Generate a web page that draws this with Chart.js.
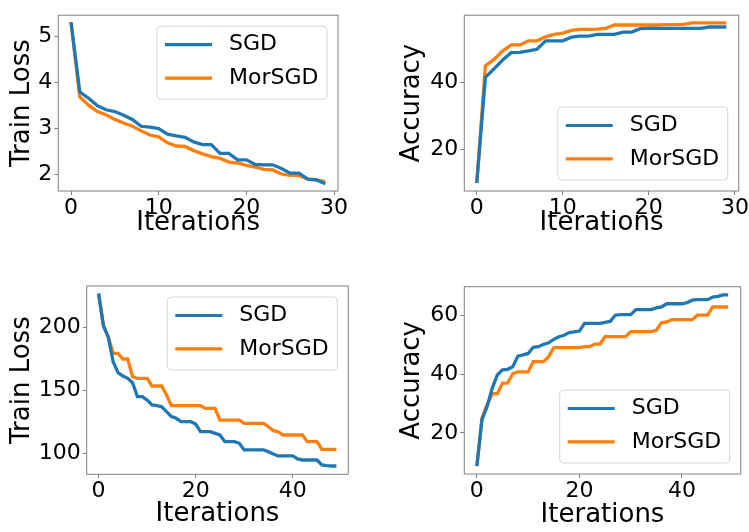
<!DOCTYPE html>
<html>
<head>
<meta charset="utf-8">
<script src="https://cdn.jsdelivr.net/npm/chart.js@4.4.1/dist/chart.umd.min.js"></script>
<style>
  body { margin: 0; background: #fff; }
  #wrap { position: relative; width: 749px; height: 532px; overflow: hidden; }
  canvas { position: absolute; }
</style>
</head>
<body>
<div id="wrap">
  <canvas id="lossTop" width="374" height="250" style="left:0;top:0"></canvas>
  <canvas id="accTop" width="374" height="250" style="left:375px;top:0"></canvas>
  <canvas id="lossBottom" width="374" height="272" style="left:0;top:260px"></canvas>
  <canvas id="accBottom" width="374" height="272" style="left:375px;top:260px"></canvas>
</div>
<script>
const seriesNames = ["SGD", "MorSGD"];

// top row: 30 iterations
const lossTopSgd = [5.32, 3.80, 3.66, 3.50, 3.41, 3.37, 3.29, 3.20, 3.05, 3.03, 3.00, 2.88, 2.84, 2.81, 2.71, 2.65, 2.65, 2.46, 2.46, 2.32, 2.32, 2.22, 2.21, 2.21, 2.13, 2.03, 2.03, 1.90, 1.88, 1.80];
const lossTopMor = [5.32, 3.69, 3.51, 3.37, 3.30, 3.20, 3.12, 3.05, 2.95, 2.86, 2.82, 2.69, 2.62, 2.61, 2.52, 2.45, 2.39, 2.35, 2.27, 2.25, 2.20, 2.16, 2.11, 2.10, 2.01, 1.98, 1.98, 1.90, 1.88, 1.84];
const accTopSgd = [10.1, 41.4, 43.9, 46.5, 48.7, 48.8, 49.2, 49.7, 52.2, 52.2, 52.2, 53.3, 53.6, 53.6, 54.1, 54.1, 54.1, 54.8, 54.8, 55.8, 55.9, 55.9, 55.9, 55.9, 55.9, 55.9, 55.9, 56.3, 56.3, 56.3];
const accTopMor = [10.1, 44.8, 46.7, 49.2, 51.0, 51.0, 52.2, 52.2, 53.4, 54.1, 54.5, 55.3, 55.6, 55.6, 55.7, 55.9, 56.9, 56.9, 56.9, 56.9, 56.9, 56.9, 57.0, 57.0, 57.1, 57.5, 57.5, 57.5, 57.5, 57.5];

// bottom row: 50 iterations
const lossBottomSgd = [227.3, 201.6, 192.3, 172.9, 164.2, 161.5, 159.7, 156.2, 145.1, 145.1,
  142.4, 138.5, 137.9, 137.1, 133.2, 129.2, 127.9, 125.2, 125.2, 125.2,
  123.3, 117.2, 117.2, 117.2, 115.9, 114.6, 109.3, 109.3, 109.3, 108.0,
  102.7, 102.7, 102.7, 102.7, 102.7, 101.3, 99.5, 97.9, 97.9, 97.9,
  97.9, 95.5, 94.7, 94.7, 94.7, 94.7, 90.7, 90.2, 89.9, 89.9];
const lossBottomMor = [227.3, 201.6, 192.8, 179.6, 179.6, 175.1, 175.1, 161.0, 159.7, 159.7,
  159.7, 153.6, 153.6, 153.6, 146.4, 137.9, 137.9, 137.9, 137.9, 137.9,
  137.9, 137.9, 135.8, 135.8, 135.8, 126.5, 126.5, 126.5, 126.5, 126.5,
  123.9, 123.9, 123.9, 123.9, 123.9, 121.2, 118.0, 117.2, 114.6, 114.6,
  114.6, 114.6, 114.6, 109.3, 109.3, 109.3, 103.2, 103.2, 103.2, 103.2];
const accBottomSgd = [8.7, 24.5, 29.0, 35.2, 39.7, 41.4, 41.6, 42.5, 46.1, 46.5,
  47.0, 49.1, 49.3, 50.1, 50.6, 51.8, 52.7, 53.2, 54.1, 54.3,
  54.6, 57.2, 57.2, 57.2, 57.2, 57.6, 57.9, 60.0, 60.2, 60.2,
  60.2, 61.9, 61.9, 61.9, 61.9, 62.5, 62.8, 63.9, 63.9, 63.9,
  63.9, 64.3, 65.1, 65.3, 65.3, 65.3, 66.2, 66.4, 66.9, 66.9];
const accBottomMor = [8.7, 25.1, 29.6, 33.3, 33.3, 36.9, 36.9, 40.1, 40.7, 40.7,
  40.7, 44.2, 44.2, 44.2, 45.9, 49.0, 49.0, 49.0, 49.0, 49.0,
  49.0, 49.3, 49.3, 50.2, 50.2, 52.7, 52.7, 52.7, 52.7, 52.7,
  54.4, 54.4, 54.4, 54.4, 54.4, 54.9, 57.4, 57.7, 58.5, 58.5,
  58.5, 58.5, 58.5, 60.0, 60.0, 60.0, 62.8, 62.8, 62.8, 62.8];

const xTicksTop = [0, 10, 20, 30];
const xTicksBottom = [0, 20, 40];
const lossTopTicks = [2, 3, 4, 5];
const accTopTicks = [20, 40];
const lossBottomTicks = [100, 150, 200];
const accBottomTicks = [20, 40, 60];

const colors = ["#1f77b4", "#ff7f0e"];
const FONT = "'DejaVu Sans', sans-serif";

// box around plot area + matplotlib style legend inside it
const boxPlugin = {
  id: "boxLegend",
  afterDatasetsDraw(chart) {
    const a = chart.chartArea, ctx = chart.ctx;
    ctx.save();
    ctx.strokeStyle = "#808080";
    ctx.lineWidth = 1;
    ctx.strokeRect(a.left, a.top, a.right - a.left, a.bottom - a.top);
    ctx.restore();
  },
  afterDraw(chart, args, opts) {
    const a = chart.chartArea, ctx = chart.ctx;
    const w = 170, h = 73, pad = 11;
    const x = a.right - pad - w;
    const y = opts.corner === "ne" ? a.top + pad : a.bottom - pad - h;
    ctx.save();
    ctx.beginPath();
    ctx.roundRect(x, y, w, h, 4);
    ctx.fillStyle = "rgba(255,255,255,0.8)";
    ctx.fill();
    ctx.strokeStyle = "#d5d5d5";
    ctx.lineWidth = 1;
    ctx.stroke();
    ctx.font = "22px " + FONT;
    ctx.textBaseline = "middle";
    ctx.textAlign = "left";
    chart.data.datasets.forEach((ds, i) => {
      const cy = y + 18.5 + i * 33.4;
      ctx.strokeStyle = ds.borderColor;
      ctx.lineWidth = 3.2;
      ctx.beginPath();
      ctx.moveTo(x + 8, cy);
      ctx.lineTo(x + 55, cy);
      ctx.stroke();
      ctx.fillStyle = "#000";
      ctx.fillText(ds.label, x + 72, cy);
    });
    ctx.restore();
  }
};

function makeChart(id, cfg) {
  const canvas = document.getElementById(id);
  const W = canvas.width, H = canvas.height;
  const ar = cfg.area;
  return new Chart(canvas, {
    type: "line",
    data: {
      datasets: cfg.series.map((vals, i) => ({
        label: seriesNames[i],
        data: vals.map((v, k) => ({ x: k, y: v })),
        borderColor: colors[i],
        borderWidth: 3.3,
        pointRadius: 0,
        tension: 0,
        fill: false
      }))
    },
    options: {
      responsive: false,
      animation: false,
      layout: { padding: { left: 0, top: ar.t, right: W - ar.r, bottom: 0 } },
      plugins: {
        legend: { display: false },
        tooltip: { enabled: false },
        boxLegend: { corner: cfg.corner }
      },
      scales: {
        x: {
          type: "linear",
          min: cfg.xMin, max: cfg.xMax,
          afterFit: s => { s.height = H - ar.b; },
          afterBuildTicks: s => { s.ticks = cfg.xTicks.map(v => ({ value: v })); },
          grid: { drawOnChartArea: false, color: "#808080", tickLength: 4 },
          border: { display: false },
          ticks: { color: "#000", font: { family: FONT, size: 22 }, padding: 0, maxRotation: 0 },
          title: {
            display: true, text: "Iterations", color: "#000",
            font: { family: FONT, size: 26, lineHeight: 1.2 },
            padding: { top: 0, bottom: cfg.xTitlePad }
          }
        },
        y: {
          min: cfg.yMin, max: cfg.yMax,
          afterFit: s => { s.width = ar.l; },
          afterBuildTicks: s => { s.ticks = cfg.yTicks.map(v => ({ value: v })); },
          grid: { drawOnChartArea: false, color: "#808080", tickLength: 4 },
          border: { display: false },
          ticks: { color: "#000", font: { family: FONT, size: 22 }, padding: 2 },
          title: {
            display: true, text: cfg.yTitle, color: "#000",
            font: { family: FONT, size: 26, lineHeight: 1.2 },
            padding: { top: cfg.yTitlePad, bottom: 0 }
          }
        }
      }
    },
    plugins: [boxPlugin]
  });
}

makeChart("lossTop", {
  series: [lossTopSgd, lossTopMor],
  area: { l: 58.3, r: 338, t: 3, b: 191 },
  xMin: -1.45, xMax: 30.45, yMin: 1.64, yMax: 5.47,
  xTicks: xTicksTop, yTicks: lossTopTicks,
  yTitle: "Train Loss", xTitlePad: 11.4, yTitlePad: 6.4, corner: "ne"
});
makeChart("accTop", {
  series: [accTopSgd, accTopMor],
  area: { l: 89.3, r: 365.7, t: 3, b: 191 },
  xMin: -1.45, xMax: 30.45, yMin: 7.7, yMax: 59.8,
  xTicks: xTicksTop, yTicks: accTopTicks,
  yTitle: "Accuracy", xTitlePad: 11.4, yTitlePad: 21.9, corner: "se"
});
makeChart("lossBottom", {
  series: [lossBottomSgd, lossBottomMor],
  area: { l: 86.7, r: 348.3, t: 26, b: 214.3 },
  xMin: -2.45, xMax: 51.45, yMin: 83.3, yMax: 233.2,
  xTicks: xTicksBottom, yTicks: lossBottomTicks,
  yTitle: "Train Loss", xTitlePad: 2.4, yTitlePad: 6.4, corner: "ne"
});
makeChart("accBottom", {
  series: [accBottomSgd, accBottomMor],
  area: { l: 89.3, r: 365.7, t: 26.7, b: 214 },
  xMin: -2.45, xMax: 51.45, yMin: 6.0, yMax: 69.7,
  xTicks: xTicksBottom, yTicks: accBottomTicks,
  yTitle: "Accuracy", xTitlePad: 1.4, yTitlePad: 21.9, corner: "se"
});
</script>
</body>
</html>
